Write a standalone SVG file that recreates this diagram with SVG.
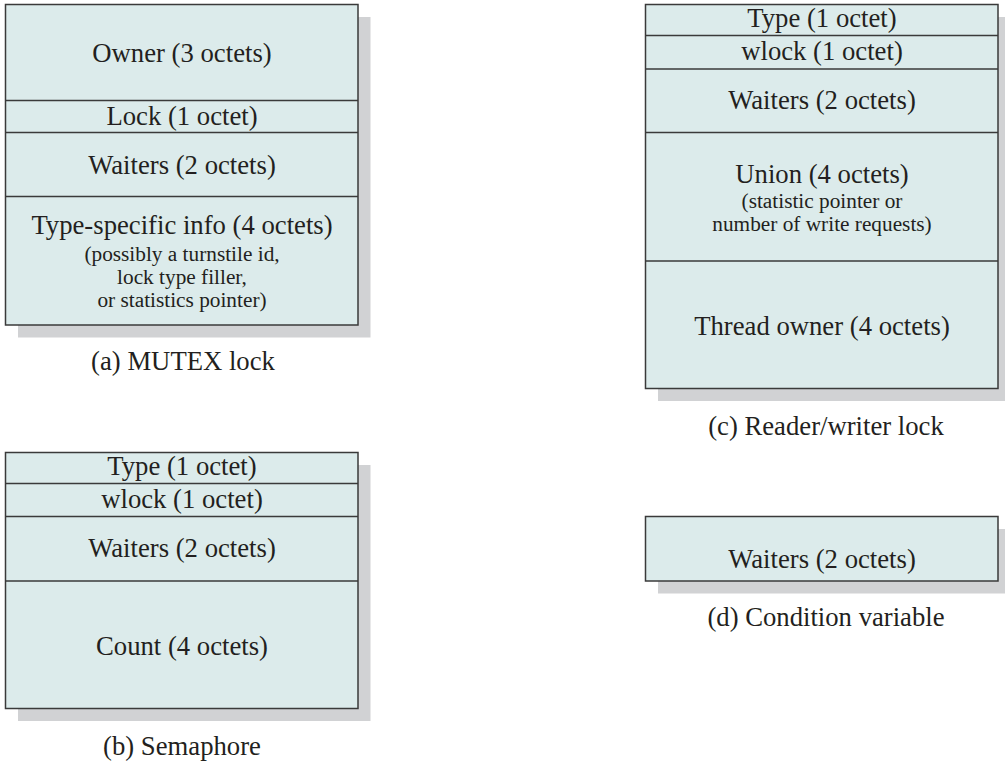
<svg xmlns="http://www.w3.org/2000/svg" width="1005" height="761" viewBox="0 0 1005 761">
<style>
.shadow{fill:#d1d2d4;stroke:none}
.box{fill:#dcebeb;stroke:#3a3a3a;stroke-width:1.5}
.div{stroke:#3a3a3a;stroke-width:1.5;fill:none}
text{font-family:"Liberation Serif","Times New Roman",serif;fill:#231f20;text-anchor:middle}
.t{font-size:26.7px}
.s{font-size:21.3px}
</style>
<rect width="1005" height="761" fill="#ffffff"/>
<g id="mutex">
<rect class="shadow" x="18" y="17" width="352.5" height="320.5"/>
<rect class="box" x="5.5" y="4.5" width="352.5" height="320.5"/>
<line class="div" x1="5.5" y1="100.5" x2="358" y2="100.5"/>
<line class="div" x1="5.5" y1="132.5" x2="358" y2="132.5"/>
<line class="div" x1="5.5" y1="196.5" x2="358" y2="196.5"/>
<text class="t" x="182" y="62">Owner (3 octets)</text>
<text class="t" x="182" y="125">Lock (1 octet)</text>
<text class="t" x="182" y="174">Waiters (2 octets)</text>
<text class="t" x="182" y="234">Type-specific info (4 octets)</text>
<text class="s" x="182" y="260.5">(possibly a turnstile id,</text>
<text class="s" x="182" y="283.5">lock type filler,</text>
<text class="s" x="182" y="306.5">or statistics pointer)</text>
<text class="t" x="183" y="370">(a) MUTEX lock</text>
</g>
<g id="rwlock">
<rect class="shadow" x="658" y="17" width="352.5" height="384"/>
<rect class="box" x="645.5" y="4.5" width="352.5" height="384"/>
<line class="div" x1="645.5" y1="35.5" x2="998" y2="35.5"/>
<line class="div" x1="645.5" y1="69" x2="998" y2="69"/>
<line class="div" x1="645.5" y1="132.5" x2="998" y2="132.5"/>
<line class="div" x1="645.5" y1="261" x2="998" y2="261"/>
<text class="t" x="822" y="27">Type (1 octet)</text>
<text class="t" x="822" y="59.5">wlock (1 octet)</text>
<text class="t" x="822" y="109">Waiters (2 octets)</text>
<text class="t" x="822" y="183">Union (4 octets)</text>
<text class="s" x="822" y="208">(statistic pointer or</text>
<text class="s" x="822" y="230.5">number of write requests)</text>
<text class="t" x="822" y="334.5">Thread owner (4 octets)</text>
<text class="t" x="826" y="435">(c) Reader/writer lock</text>
</g>
<g id="semaphore">
<rect class="shadow" x="18" y="465" width="352.5" height="256"/>
<rect class="box" x="5.5" y="452.5" width="352.5" height="256"/>
<line class="div" x1="5.5" y1="483.5" x2="358" y2="483.5"/>
<line class="div" x1="5.5" y1="516.5" x2="358" y2="516.5"/>
<line class="div" x1="5.5" y1="581" x2="358" y2="581"/>
<text class="t" x="182" y="475">Type (1 octet)</text>
<text class="t" x="182" y="508">wlock (1 octet)</text>
<text class="t" x="182" y="556.5">Waiters (2 octets)</text>
<text class="t" x="182" y="655">Count (4 octets)</text>
<text class="t" x="182" y="755">(b) Semaphore</text>
</g>
<g id="condvar">
<rect class="shadow" x="658" y="529" width="352.5" height="64.5"/>
<rect class="box" x="645.5" y="516.5" width="352.5" height="64.5"/>
<text class="t" x="822" y="567.5">Waiters (2 octets)</text>
<text class="t" x="826" y="626">(d) Condition variable</text>
</g>
<g id="connectors"></g>
</svg>
